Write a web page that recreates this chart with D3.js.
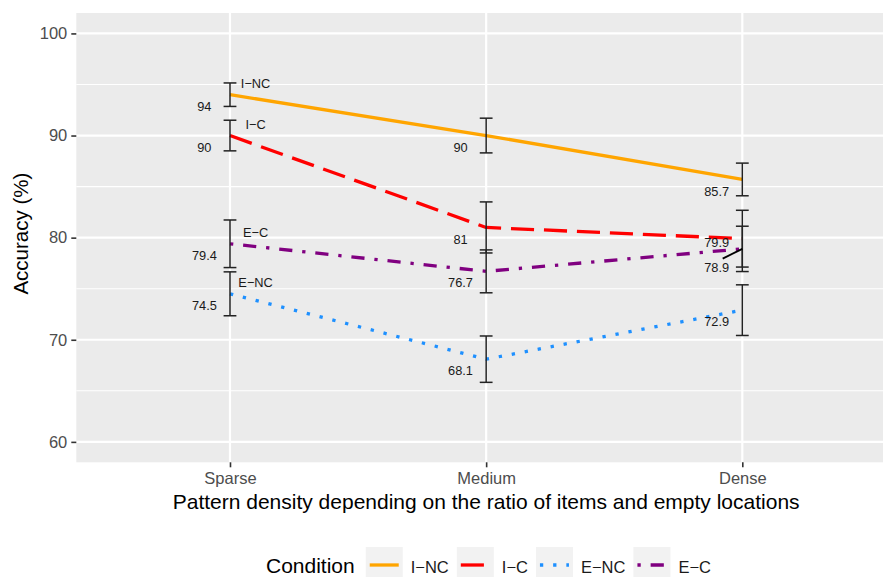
<!DOCTYPE html>
<html>
<head>
<meta charset="utf-8">
<script src="https://cdn.jsdelivr.net/npm/d3@7"></script>
<style>
  html, body { margin: 0; padding: 0; background: #ffffff; }
  svg { display: block; font-family: "Liberation Sans", Arial, Helvetica, sans-serif; }
</style>
</head>
<body>
<script>
// ---- data ----
const densities = ["Sparse", "Medium", "Dense"];
const conditions = ["I−NC", "I−C", "E−NC", "E−C"];
const accINC = [94, 90, 85.7];
const accIC  = [90, 81, 79.9];
const accENC = [74.5, 68.1, 72.9];
const accEC  = [79.4, 76.7, 78.9];
const errINC = [1.15, 1.7, 1.6];
const errIC  = [1.5, 2.5, 2.78];
const errENC = [2.15, 2.27, 2.48];
const errEC  = [2.33, 2.1, 2.22];
const yTicks = [60, 70, 80, 90, 100];
const yMinorTicks = [65, 75, 85, 95];
const xTitle = "Pattern density depending on the ratio of items and empty locations";
const yTitle = "Accuracy (%)";
const legendTitle = "Condition";

// ---- styles ----
const colors = { "I−NC": "#FFA500", "I−C": "#FF0000", "E−NC": "#1E90FF", "E−C": "#800080" };
const LW = 3.3;
const dashes = {
  "I−NC": null,
  "I−C": `${7*LW},${3*LW}`,
  "E−NC": `${1*LW},${3*LW}`,
  "E−C": `${1*LW},${3*LW},${4*LW},${3*LW}`
};

const series = [
  { name: conditions[0], vals: accINC, errs: errINC },
  { name: conditions[1], vals: accIC,  errs: errIC  },
  { name: conditions[2], vals: accENC, errs: errENC },
  { name: conditions[3], vals: accEC,  errs: errEC  }
];

const W = 883, H = 577;
const panel = { left: 76.3, top: 13, right: 896, bottom: 462.3 };

const x = d3.scalePoint().domain(densities)
  .range([panel.left, panel.right]).padding(0.6);
const y = d3.scaleLinear().domain([58, 102]).range([panel.bottom, panel.top]);
const step = x.step();

const svg = d3.select("body").append("svg").attr("width", W).attr("height", H);

// panel background
svg.append("rect")
  .attr("x", panel.left).attr("y", panel.top)
  .attr("width", panel.right - panel.left).attr("height", panel.bottom - panel.top)
  .attr("fill", "#EBEBEB");

// gridlines
svg.append("g").selectAll("line").data(yMinorTicks).join("line")
  .attr("x1", panel.left).attr("x2", panel.right)
  .attr("y1", d => y(d)).attr("y2", d => y(d))
  .attr("stroke", "#ffffff").attr("stroke-width", 1.1);
svg.append("g").selectAll("line").data(yTicks).join("line")
  .attr("x1", panel.left).attr("x2", panel.right)
  .attr("y1", d => y(d)).attr("y2", d => y(d))
  .attr("stroke", "#ffffff").attr("stroke-width", 2.2);
svg.append("g").selectAll("line").data(densities).join("line")
  .attr("x1", d => x(d)).attr("x2", d => x(d))
  .attr("y1", panel.top).attr("y2", panel.bottom)
  .attr("stroke", "#ffffff").attr("stroke-width", 2.2);

// axes
const yAxis = d3.axisLeft(y).tickValues(yTicks).tickSize(5).tickPadding(4);
const gy = svg.append("g").attr("transform", `translate(${panel.left},0)`).call(yAxis);
gy.select(".domain").remove();
gy.selectAll(".tick line").attr("stroke", "#333333").attr("stroke-width", 1.6);
gy.selectAll(".tick text").attr("fill", "#4D4D4D").attr("font-size", 16.5)
  .attr("font-family", "Liberation Sans, Arial, sans-serif");

const xAxis = d3.axisBottom(x).tickSize(5).tickPadding(4);
const gx = svg.append("g").attr("transform", `translate(0,${panel.bottom})`).call(xAxis);
gx.select(".domain").remove();
gx.selectAll(".tick line").attr("stroke", "#333333").attr("stroke-width", 1.6);
gx.selectAll(".tick text").attr("fill", "#4D4D4D").attr("font-size", 16.5)
  .attr("font-family", "Liberation Sans, Arial, sans-serif").attr("dy", "0.78em");

// axis titles
svg.append("text").attr("x", (panel.left + panel.right) / 2).attr("y", 508.5)
  .attr("text-anchor", "middle").attr("font-size", 21).attr("fill", "#000")
  .text(xTitle);
svg.append("text")
  .attr("transform", `translate(27.5,${(panel.top + panel.bottom) / 2 - 4}) rotate(-90)`)
  .attr("text-anchor", "middle").attr("font-size", 20.5).attr("fill", "#000")
  .text(yTitle);

// lines
const line = d3.line().x((d, i) => x(densities[i])).y(d => y(d));
svg.append("g").selectAll("path").data(series).join("path")
  .attr("d", s => line(s.vals))
  .attr("fill", "none")
  .attr("stroke", s => colors[s.name])
  .attr("stroke-width", LW)
  .attr("stroke-linecap", "butt")
  .attr("stroke-linejoin", "round")
  .attr("stroke-dasharray", s => dashes[s.name]);

// error bars
const capHalf = 0.025 * step;
const eb = svg.append("g").attr("stroke", "#222222").attr("stroke-width", 1.5);
series.forEach(s => {
  s.vals.forEach((v, i) => {
    const cx = x(densities[i]);
    const lo = y(v - s.errs[i]), hi = y(v + s.errs[i]);
    eb.append("line").attr("x1", cx).attr("x2", cx).attr("y1", lo).attr("y2", hi);
    eb.append("line").attr("x1", cx - capHalf).attr("x2", cx + capHalf).attr("y1", lo).attr("y2", lo);
    eb.append("line").attr("x1", cx - capHalf).attr("x2", cx + capHalf).attr("y1", hi).attr("y2", hi);
  });
});

// value labels with simple vertical repel
const LFS = 12.8;
const capH = LFS * 0.716;
let labels = [];
series.forEach(s => {
  s.vals.forEach((v, i) => {
    labels.push({ text: String(v), group: i, px: x(densities[i]), py: y(v),
                  lx: x(densities[i]) - 0.1 * step, cy: y(v) + 11.5 });
  });
});
labels.forEach(l => l.cy0 = l.cy);
const minGap = 24.4;
densities.forEach((d, gi) => {
  const g = labels.filter(l => l.group === gi).sort((a, b) => a.cy - b.cy);
  for (let k = 1; k < g.length; k++) {
    const a = g[k - 1], b = g[k];
    const gap = b.cy - a.cy;
    if (gap < minGap) {
      const push = (minGap - gap) / 2;
      a.cy -= push + 0.5; b.cy += push - 0.5;
    }
  }
});
const lg = svg.append("g");
labels.forEach(l => {
  if (l.cy - l.cy0 > 2) {
    lg.append("line").attr("x1", l.px).attr("y1", l.py)
      .attr("x2", l.lx + 6).attr("y2", l.cy - 8.4)
      .attr("stroke", "#000").attr("stroke-width", 1.8);
  }
  lg.append("text").attr("x", l.lx).attr("y", l.cy + capH / 2)
    .attr("text-anchor", "middle").attr("font-size", LFS).attr("fill", "#1a1a1a")
    .text(l.text);
});

// series name labels at first density
series.forEach(s => {
  svg.append("text")
    .attr("x", x(densities[0]) + 0.1 * step)
    .attr("y", y(s.vals[0]) - 11 + capH / 2)
    .attr("text-anchor", "middle").attr("font-size", LFS).attr("fill", "#1a1a1a")
    .text(s.name);
});

// legend
const leg = svg.append("g");
const keyW = 37, keyH = 37, keyTop = 547;
const baseY = 573.3;
const titleT = leg.append("text").attr("y", baseY).attr("font-size", 21).attr("fill", "#000").text(legendTitle);
const titleW = titleT.node().getComputedTextLength();
const itemTexts = conditions.map(c => {
  const t = leg.append("text").attr("y", baseY).attr("font-size", 16.5).attr("fill", "#1a1a1a").text(c);
  return { c, t, w: t.node().getComputedTextLength() };
});
let total = titleW + 11;
itemTexts.forEach((it, i) => { total += keyW + 8 + it.w + (i < itemTexts.length - 1 ? 8 : 0); });
let cx0 = 488.5 - total / 2;
titleT.attr("x", cx0);
let cur = cx0 + titleW + 11;
itemTexts.forEach((it, i) => {
  leg.append("rect").attr("x", cur).attr("y", keyTop).attr("width", keyW).attr("height", keyH)
    .attr("fill", "#F2F2F2");
  leg.append("line")
    .attr("x1", cur + 4).attr("x2", cur + keyW - 4)
    .attr("y1", keyTop + keyH / 2 - 0.5).attr("y2", keyTop + keyH / 2 - 0.5)
    .attr("stroke", colors[it.c]).attr("stroke-width", LW)
    .attr("stroke-dasharray", dashes[it.c]);
  it.t.attr("x", cur + keyW + 8).raise();
  cur += keyW + 8 + it.w + 8;
});
</script>
</body>
</html>
